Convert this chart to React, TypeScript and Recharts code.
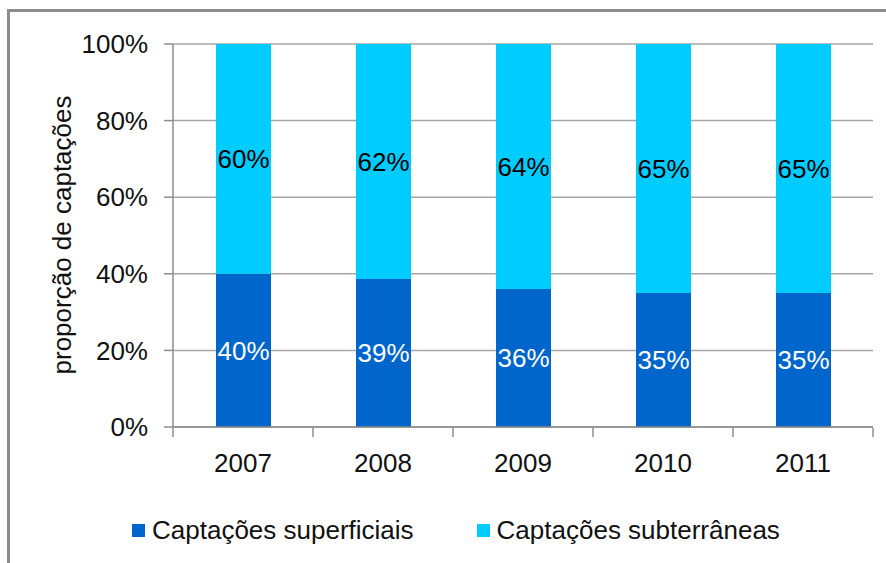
import React from 'react';
import { BarChart, Bar, XAxis, YAxis, CartesianGrid, LabelList } from 'recharts';

const years = ['2007', '2008', '2009', '2010', '2011'];
const superficiais = [40, 39, 36, 35, 35];
const subterraneas = [60, 62, 64, 65, 65];
const yTicks = [0, 0.2, 0.4, 0.6, 0.8, 1];
const edgeTicks = [0, 1, 2, 3, 4, 5];

const series = [
  { key: 'sup', name: 'Captações superficiais', color: '#0066CC', labelColor: '#ffffff' },
  { key: 'sub', name: 'Captações subterrâneas', color: '#00CCFF', labelColor: '#000000' },
];

const data = years.map((year, i) => ({
  year,
  idx: i + 0.5,
  sup: superficiais[i],
  sub: subterraneas[i],
}));

const FONT = '"Liberation Sans", Arial, sans-serif';
const FONT_SIZE = 26;
const AXIS_GRAY = '#8c8c8c';

export default function App() {
  return (
    <div
      style={{
        position: 'absolute',
        left: 0,
        top: 0,
        width: 886,
        height: 563,
        overflow: 'hidden',
        background: '#fff',
        fontFamily: FONT,
      }}
    >
      {/* chart frame, only its left and top edges fall inside the view */}
      <div
        style={{
          position: 'absolute',
          left: 7,
          top: 9,
          width: 920,
          height: 620,
          border: `3px solid ${AXIS_GRAY}`,
        }}
      />
      <BarChart
        width={886}
        height={563}
        data={data}
        stackOffset="expand"
        margin={{ top: 44, right: 13, bottom: 134, left: 0 }}
        style={{ position: 'absolute', left: 0, top: 0 }}
      >
        <CartesianGrid horizontal vertical={false} stroke="#a6a6a6" strokeWidth={1.5} />
        {/* tick marks sitting between the categories */}
        <XAxis
          xAxisId="edges"
          type="number"
          dataKey="idx"
          domain={[0, 5]}
          ticks={edgeTicks}
          tickFormatter={() => ''}
          axisLine={false}
          tickLine={{ stroke: AXIS_GRAY, strokeWidth: 1.5 }}
          tickSize={9}
          height={1}
        />
        <XAxis
          dataKey="year"
          tickLine={false}
          axisLine={{ stroke: AXIS_GRAY, strokeWidth: 1.5 }}
          tick={{ fill: '#111', fontSize: FONT_SIZE, fontFamily: FONT }}
          tickMargin={21}
          height={1}
        />
        <YAxis
          width={173}
          domain={[0, 1]}
          ticks={yTicks}
          tickFormatter={(v: number) => `${Math.round(v * 100)}%`}
          axisLine={{ stroke: AXIS_GRAY, strokeWidth: 1.5 }}
          tickLine={{ stroke: AXIS_GRAY, strokeWidth: 1.5 }}
          tickSize={9}
          tickMargin={16}
          tick={{ fill: '#111', fontSize: FONT_SIZE, fontFamily: FONT }}
        />
        {series.map((s) => (
          <Bar
            key={s.key}
            dataKey={s.key}
            name={s.name}
            stackId="total"
            fill={s.color}
            barSize={55}
            isAnimationActive={false}
          >
            <LabelList
              dataKey={s.key}
              position="center"
              formatter={(v: number) => `${v}%`}
              fill={s.labelColor}
              style={{ fontSize: FONT_SIZE, fontFamily: FONT }}
            />
          </Bar>
        ))}
      </BarChart>

      {/* y axis title */}
      <div
        style={{
          position: 'absolute',
          left: 62,
          top: 235,
          transform: 'translate(-50%, -50%) rotate(-90deg)',
          whiteSpace: 'nowrap',
          fontSize: FONT_SIZE,
          color: '#111',
        }}
      >
        proporção de captações
      </div>

      {/* legend */}
      <div
        style={{
          position: 'absolute',
          left: 132,
          top: 515,
          display: 'flex',
          alignItems: 'center',
          fontSize: FONT_SIZE,
          color: '#111',
          whiteSpace: 'nowrap',
        }}
      >
        {series.map((s, i) => (
          <div
            key={s.key}
            style={{ display: 'flex', alignItems: 'center', marginRight: i === 0 ? 63 : 0 }}
          >
            <span style={{ width: 13, height: 13, background: s.color, marginRight: 7 }} />
            <span>{s.name}</span>
          </div>
        ))}
      </div>
    </div>
  );
}
